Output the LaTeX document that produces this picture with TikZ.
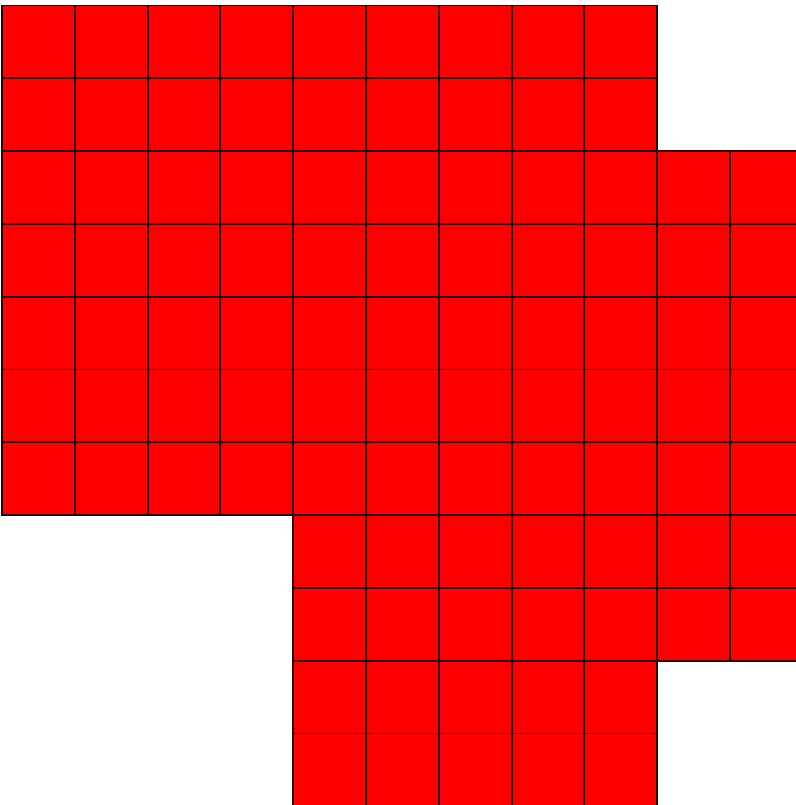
\documentclass[tikz,border=0pt]{standalone}
\usepackage{tikz}
\definecolor{cellRed}{RGB}{255,0,0}
\definecolor{cellEdge}{RGB}{40,0,0}
\tikzset{
    cellbox/.style={rectangle, draw=cellEdge, fill=cellRed, line width=0.75pt,
        minimum width=1cm, minimum height=1cm, inner sep=0pt, outer sep=0pt},
}

\begin{document}
\begin{tikzpicture}

% Frame of the picture
\useasboundingbox (-0.027,0.018) rectangle (10.907,11.076);
\clip (-0.027,0.018) rectangle (10.907,11.076);

% Cells, row by row from the top: row/first column/last column
\foreach \r/\cfirst/\clast in {0/0/8, 1/0/8, 2/0/10, 3/0/10, 4/0/10, 5/0/10,
        6/0/10, 7/4/10, 8/4/10, 9/4/8, 10/4/8} {
    \foreach \c in {\cfirst,...,\clast} {
        \node[cellbox] (cell-\r-\c) at (\c+0.5, 10.5-\r) {};
    }
}

\end{tikzpicture}
\end{document}
